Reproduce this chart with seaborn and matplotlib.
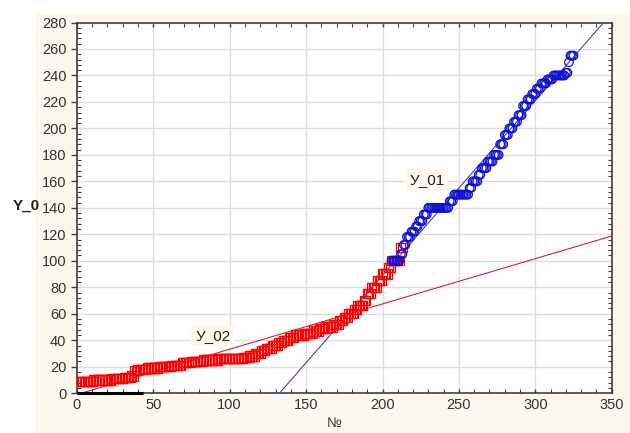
import numpy as np
import matplotlib
matplotlib.use("Agg")
import matplotlib.pyplot as plt
import seaborn as sns
from matplotlib.patches import Rectangle
from matplotlib.ticker import MultipleLocator

sns.set_style("white")
plt.rcParams['font.family'] = ['Liberation Sans', 'DejaVu Sans']
plt.rcParams['font.size'] = 10

# red series (squares): value levels and how many points sit on each level
red_levels = [9, 10, 11, 12, 13, 17, 18, 19, 20, 21, 23, 24, 25, 26, 27, 28, 30, 32,
              34, 36, 38, 40, 42, 44, 45, 47, 49, 50, 52, 55, 57, 60, 63, 66, 70, 75,
              80, 85, 90, 95, 100, 110]
red_counts = [10, 12, 8, 5, 2, 2, 6, 8, 8, 7, 6, 8, 10, 16, 4, 4, 4, 3,
              4, 4, 3, 4, 4, 6, 6, 4, 4, 5, 4, 3, 3, 4, 2, 4, 2, 3,
              4, 3, 4, 2, 6, 2]
red_start = 1

# blue series (circles)
blue_levels = [100, 105, 112, 118, 122, 126, 130, 135, 140, 145, 150, 155, 160, 165,
               170, 175, 180, 188, 195, 200, 205, 210, 217, 222, 226, 230, 234, 237,
               240, 242, 250, 255]
blue_counts = [6, 2, 2, 3, 3, 2, 3, 3, 14, 3, 10, 2, 4, 2,
               4, 4, 4, 3, 3, 3, 3, 3, 3, 3, 3, 3, 4, 4,
               8, 2, 1, 3]
blue_start = 206

# fitted lines: slope, intercept
fit_02 = (0.342, -1.0)
fit_01 = (1.32, -175.0)
line_x = [0, 350]

# thick dark piece along the x axis
base_bar = [0, 43]

x_ticks = [0, 50, 100, 150, 200, 250, 300, 350]
y_ticks = [0, 20, 40, 60, 80, 100, 120, 140, 160, 180, 200, 220, 240, 260, 280]

red_y = np.repeat(red_levels, red_counts)
red_x = np.arange(red_start, red_start + len(red_y))
blue_y = np.repeat(blue_levels, blue_counts)
blue_x = np.arange(blue_start, blue_start + len(blue_y))

cream = '#fcf8ee'
fig = plt.figure(figsize=(6.3, 4.33), dpi=100, facecolor='white')
fig.patches.append(Rectangle((0.056, 0.0), 0.944, 0.97, transform=fig.transFigure,
                             facecolor=cream, edgecolor='none', zorder=-10))
ax = fig.add_axes([0.122, 0.092, 0.849, 0.856])
ax.set_facecolor('white')

lx = np.array(line_x, dtype=float)
sns.lineplot(x=lx, y=fit_02[0] * lx + fit_02[1], color='#d0203a', lw=0.8, ax=ax, zorder=3)
sns.lineplot(x=lx, y=fit_01[0] * lx + fit_01[1], color='#4040c8', lw=0.8, ax=ax, zorder=3)

sns.scatterplot(x=red_x, y=red_y, marker='s', s=44, facecolor='none', edgecolor='#ff0000',
                linewidth=0.9, ax=ax, zorder=4)
sns.scatterplot(x=blue_x, y=blue_y, marker='o', s=38, facecolor='none', edgecolor='#1010d0',
                linewidth=0.9, ax=ax, zorder=5)

ax.plot(base_bar, [0, 0], color='black', lw=2.2, zorder=6, clip_on=False,
        solid_capstyle='butt')

ax.text(229, 161, 'У_01', fontsize=11, ha='center', va='center', color='#222222', zorder=7,
        bbox=dict(boxstyle='square,pad=0.25', facecolor=cream, edgecolor='none'))
ax.text(89, 43, 'У_02', fontsize=11, ha='center', va='center', color='#222222', zorder=7,
        bbox=dict(boxstyle='square,pad=0.25', facecolor=cream, edgecolor='none'))

ax.set_xlim(0, 350)
ax.set_ylim(0, 280)
ax.set_xticks(x_ticks)
ax.set_yticks(y_ticks)
ax.xaxis.set_minor_locator(MultipleLocator(10))
ax.yaxis.set_minor_locator(MultipleLocator(4))
ax.grid(True, which='major', color='#dedede', lw=1)
ax.set_axisbelow(True)

ax.tick_params(axis='both', which='major', labelsize=10.5, labelcolor='#333333',
               color='#404040')
ax.tick_params(axis='y', which='major', direction='out', length=4, width=1, left=True)
ax.tick_params(axis='x', which='major', direction='in', length=3, width=1, bottom=True, top=True)
ax.tick_params(which='minor', direction='in', length=3, width=0.8, color='#404040',
               left=True, right=True, top=True, bottom=True)

for sp in ax.spines.values():
    sp.set_color('#404040')
    sp.set_linewidth(1.2)

ax.set_xlabel('№', fontsize=10, color='#333333')
ax.xaxis.set_label_coords(0.482, -0.062)
ax.set_ylabel('Y_0', fontsize=11, fontweight='bold', rotation=0, color='#222222')
ax.yaxis.set_label_coords(-0.095, 0.488)

fig.savefig('out.png', dpi=100, facecolor=fig.get_facecolor())
